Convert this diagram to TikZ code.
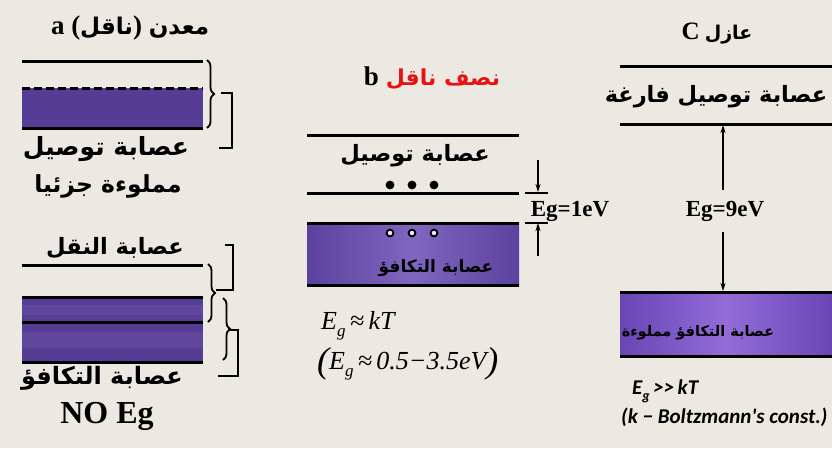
\documentclass[tikz,border=0pt]{standalone}
\usepackage{fontspec}
\usetikzlibrary{decorations.pathreplacing,arrows.meta}
\TeXXeTstate=1
\newfontfamily\arabicfont[Script=Arabic]{DejaVu Sans}
\newfontfamily\tms{Liberation Serif}
\newfontfamily\crl{Carlito}
\definecolor{bg}{RGB}{236,233,227}
\definecolor{bandA}{RGB}{86,60,148}
\definecolor{bandAl}{RGB}{96,71,156}
\definecolor{bandB}{RGB}{92,66,158}
\definecolor{bandBl}{RGB}{128,102,192}
\definecolor{bandC}{RGB}{104,70,180}
\definecolor{bandCl}{RGB}{148,108,216}
\definecolor{redt}{RGB}{232,18,18}
\newcommand{\arsz}[1]{\arabicfont\bfseries\fontsize{#1}{#1}\selectfont}
\begin{document}
\begin{tikzpicture}[x=1pt,y=-1pt,
  lvl/.style={line width=3pt},
  ar/.style={inner sep=0pt},
  egt/.style={font=\tms\bfseries\fontsize{23}{25}\selectfont, inner sep=0pt},
  frm/.style={font=\tms\itshape\fontsize{26}{28}\selectfont, inner sep=0pt, anchor=west},
  frc/.style={font=\crl\bfseries\itshape\fontsize{21}{23}\selectfont, inner sep=0pt, anchor=west},
  brc/.style={decorate, decoration={brace, amplitude=7pt}, line width=1.8pt},
  brk/.style={line width=1.8pt},
  arr/.style={line width=1.4pt, -{Stealth[length=8pt,width=5pt]}},
  tick/.style={line width=2pt},
]
% background
\fill[bg] (0,0) rectangle (832,448);
\useasboundingbox (0,0) rectangle (832,448);

%================ panel a ================
\node[ar] (ta) at (130,28) {\tms\bfseries\fontsize{27}{28}\selectfont a (\arsz{23}\beginR ناقل\endR\tms\bfseries\fontsize{27}{28}\selectfont) \arsz{23}\beginR معدن\endR};
\fill[bandA] (22,88) rectangle (203,128);
\draw[lvl] (22,61) -- (203,61);
\draw[lvl, dash pattern=on 8pt off 4pt] (22,88) -- (203,88);
\draw[lvl] (22,128) -- (203,128);
\draw[brc] (207,60) -- (207,128);
\draw[brk] (221,93) -- (232,93) -- (232,148) -- (219,148);
\node[ar, font=\arsz{25}] (acb1) at (106,149) {\beginR عصابة توصيل\endR};
\node[ar, font=\arsz{23.5}] (acb2) at (108,186) {\beginR مملوءة جزئيا\endR};

\node[ar, font=\arsz{22.5}] (acb3) at (115,248) {\beginR عصابة النقل\endR};
\draw[lvl] (22,265) -- (203,265);
\fill[bandA] (22,297) rectangle (203,362);
\fill[bandAl] (22,305) rectangle (203,315);
\fill[bandAl] (22,332) rectangle (203,348);
\draw[lvl] (22,297) -- (203,297);
\draw[lvl] (22,322) -- (203,322);
\draw[lvl] (22,362) -- (203,362);
\draw[brc] (208,264) -- (208,322);
\draw[brc] (223,298) -- (223,360);
\draw[brk] (225,245) -- (233,245) -- (233,290) -- (216,290);
\draw[brk] (228,330) -- (238,330) -- (238,376) -- (218,376);
\node[ar, font=\arsz{24}] (avb) at (102,378) {\beginR عصابة التكافؤ\endR};
\node[inner sep=0pt, font=\tms\bfseries\fontsize{32}{34}\selectfont] (noeg) at (107,416) {NO Eg};

%================ panel b ================
\node[inner sep=0pt] (tb) at (432,78) {{\tms\bfseries\fontsize{27}{28}\selectfont b}\hspace{7pt}{\color{redt}\arsz{22}\beginR نصف ناقل\endR}};
\draw[lvl] (307,135) -- (519,135);
\node[ar, font=\arsz{22.5}] (bcb) at (415,156) {\beginR عصابة توصيل\endR};
\foreach \xx/\nm in {390/e1,412/e2,434/e3}
  \fill (\xx,185) circle (4.4);
\draw[lvl] (307,193) -- (519,193);
\shade[left color=bandB, right color=bandB, middle color=bandBl] (307,223) rectangle (519,285);
\draw[lvl] (307,223) -- (519,223);
\draw[lvl] (307,285) -- (519,285);
\foreach \xx in {390,412,434}
  \draw[line width=1.8pt, fill=white!85!bandBl] (\xx,233) circle (3.4);
\node[ar, font=\arsz{17}] (bvb) at (436,268) {\beginR عصابة التكافؤ\endR};
% gap marker
\coordinate (bd0) at (538,160);
\coordinate (bd1) at (538,192);
\coordinate (bu0) at (538,256);
\coordinate (bu1) at (538,223);
\draw[arr] (bd0) -- (bd1);
\draw[arr] (bu0) -- (bu1);
\draw[tick] (525,193) -- (548,193);
\draw[tick] (525,223) -- (548,223);
\node[egt] (eg1) at (570,211) {Eg=1eV};
\node[frm] (f1) at (321,326) {E\raisebox{-7pt}{\fontsize{17}{17}\selectfont g}\,≈\,kT};
\node[frm] (f2) at (317,364) {\raisebox{-3pt}{\fontsize{36}{36}\selectfont (}E\raisebox{-7pt}{\fontsize{17}{17}\selectfont g}\,≈\,0.5−3.5eV\raisebox{-3pt}{\fontsize{36}{36}\selectfont )}};

%================ panel c ================
\node[inner sep=0pt] (tc) at (717,34) {{\tms\bfseries\fontsize{25}{26}\selectfont C}\hspace{5pt}{\arsz{19}\beginR عازل\endR}};
\draw[lvl] (620,66) -- (832,66);
\node[ar, font=\arsz{22.5}] (ccb) at (716,97) {\beginR عصابة توصيل فارغة\endR};
\draw[lvl] (620,124) -- (832,124);
\shade[left color=bandC, right color=bandC, middle color=bandCl] (620,292) rectangle (832,356);
\draw[lvl] (620,292) -- (832,292);
\draw[lvl] (620,356) -- (832,356);
\node[ar, font=\arsz{14.5}] (cvb) at (698,333) {\beginR عصابة التكافؤ مملوءة\endR};
\coordinate (cu0) at (723,190);
\coordinate (cu1) at (723,125);
\coordinate (cd0) at (723,232);
\coordinate (cd1) at (723,291);
\draw[arr] (cu0) -- (cu1);
\draw[arr] (cd0) -- (cd1);
\node[egt] (eg9) at (725,211) {Eg=9eV};
\node[frc] (f3) at (632,391) {E\raisebox{-6pt}{\fontsize{14}{14}\selectfont g}\,>>\,kT};
\node[frc] (f4) at (621,417) {(k − Boltzmann's const.)};
\end{tikzpicture}
\end{document}
